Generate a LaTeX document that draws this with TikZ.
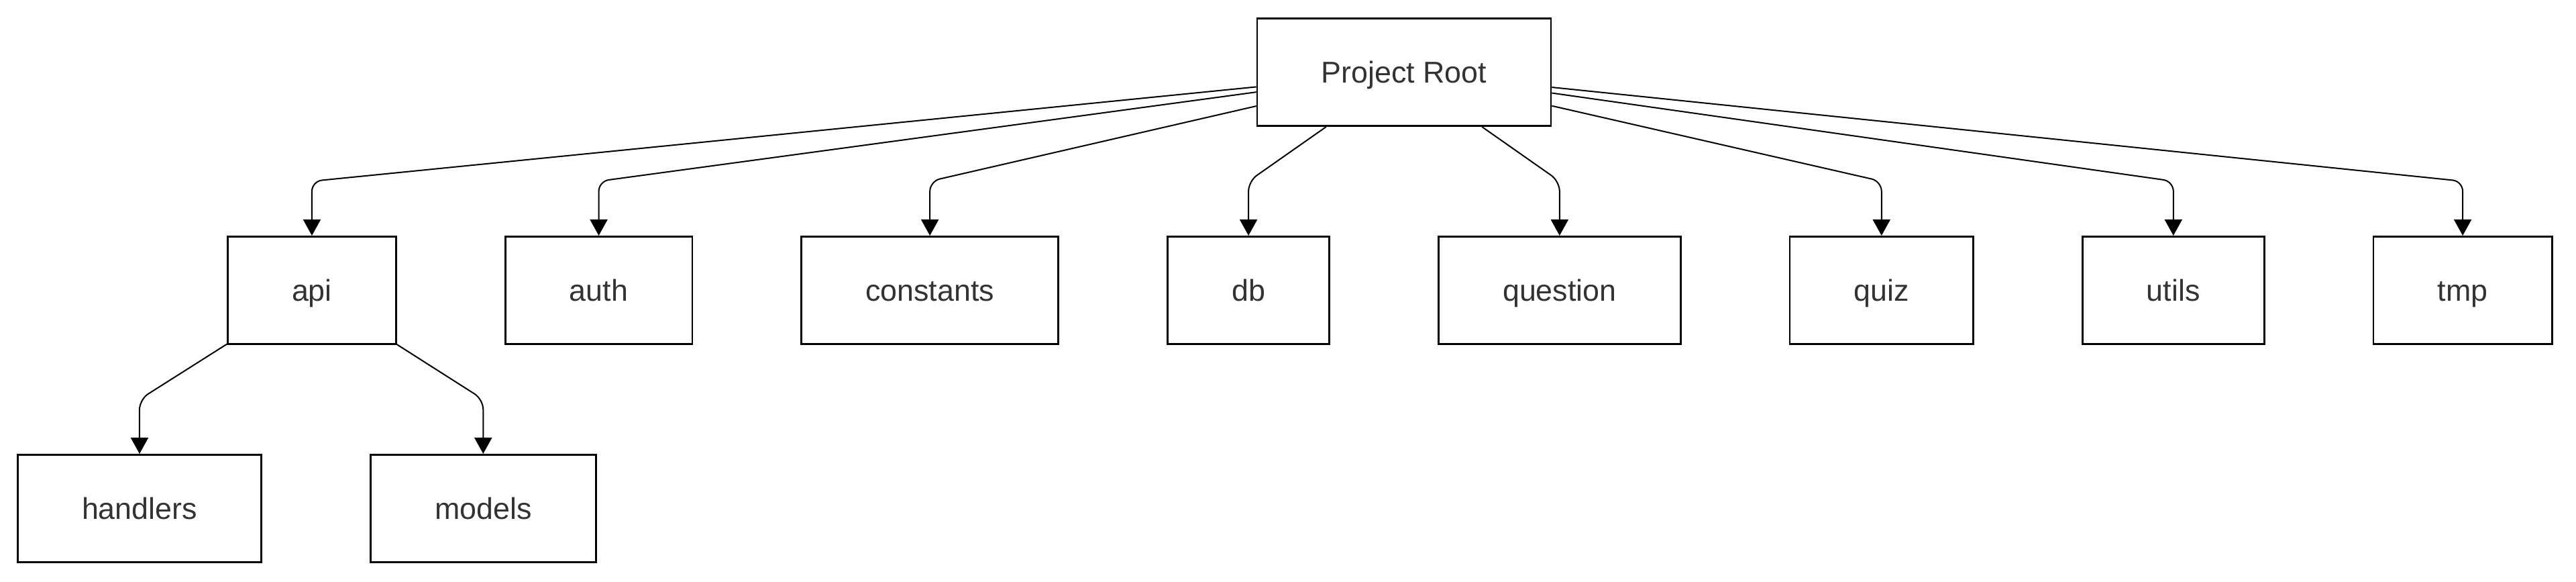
\documentclass[tikz,border=0pt]{standalone}
\usepackage{fontspec}
\setmainfont{Liberation Sans}
\usepackage{xcolor}
\usepackage{tikz}
\usetikzlibrary{arrows.meta}
\usetikzlibrary{positioning}

\definecolor{labelgray}{HTML}{333333}

\begin{document}
\begin{tikzpicture}[
        node distance = 1.6cm,
        folder/.style={draw=black,line width=0.027cm,fill=white,rectangle,inner xsep=0.957cm,inner ysep=0pt,minimum height=1.603cm,text height=0.32cm,text depth=0pt,text=labelgray,font=\fontsize{12.75}{15}\selectfont},
        link/.style={draw=black,line width=0.02cm,rounded corners=0.15cm,-{Triangle[length=0.24cm,width=0.26cm]}}
        ]
        \useasboundingbox (0,0) rectangle (38.4,-8.67);
        \coordinate (rowA) at (0,-2.70);
        \coordinate (rowB) at (0,-5.95);

        \node[folder] (root) at (20.93,-1.075) {Project Root};

        \node[folder,anchor=west] (api) at (3.38,-4.325) {api};
        \node[folder,right=of api] (auth) {auth};
        \node[folder,right=of auth] (constants) {constants};
        \node[folder,right=of constants] (db) {db};
        \node[folder,right=of db] (question) {question};
        \node[folder,right=of question] (quiz) {quiz};
        \node[folder,right=of quiz] (utils) {utils};
        \node[folder,right=of utils] (tmp) {tmp};

        \node[folder,anchor=west] (handlers) at (0.25,-7.575) {handlers};
        \node[folder,right=of handlers] (models) {models};

        \draw[link] (root) -- (api |- rowA) -- (api.north);
        \draw[link] (root) -- (auth |- rowA) -- (auth.north);
        \draw[link] (root) -- (constants |- rowA) -- (constants.north);
        \draw[link] (root) -- (db |- rowA) -- (db.north);
        \draw[link] (root) -- (question |- rowA) -- (question.north);
        \draw[link] (root) -- (quiz |- rowA) -- (quiz.north);
        \draw[link] (root) -- (utils |- rowA) -- (utils.north);
        \draw[link] (root) -- (tmp |- rowA) -- (tmp.north);

        \draw[link] (api) -- (handlers |- rowB) -- (handlers.north);
        \draw[link] (api) -- (models |- rowB) -- (models.north);
      \end{tikzpicture}
\end{document}
